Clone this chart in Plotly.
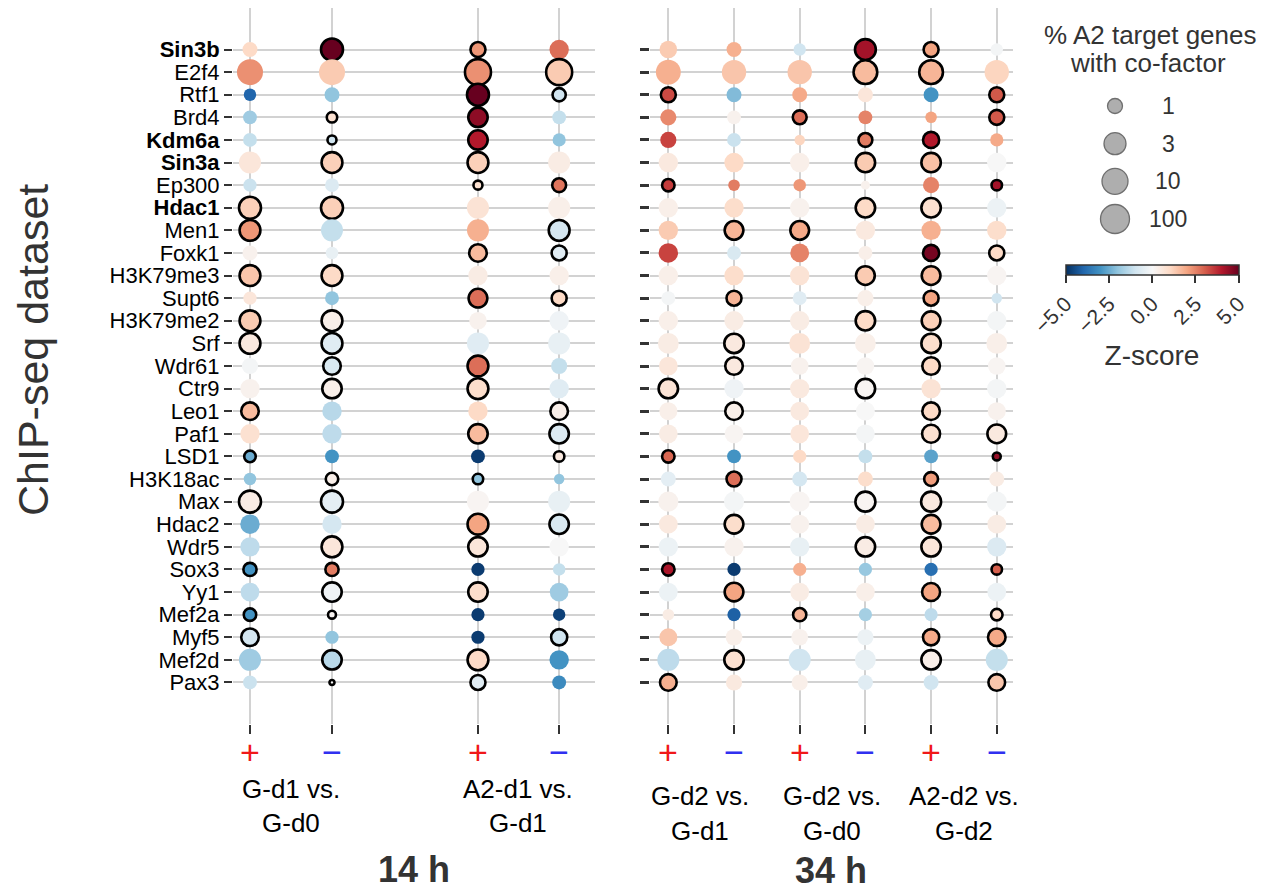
import numpy as np
import plotly.graph_objects as go

ROWS = ["Sin3b", "E2f4", "Rtf1", "Brd4", "Kdm6a", "Sin3a", "Ep300", "Hdac1", "Men1", "Foxk1",
        "H3K79me3", "Supt6", "H3K79me2", "Srf", "Wdr61", "Ctr9", "Leo1", "Paf1", "LSD1", "H3K18ac",
        "Max", "Hdac2", "Wdr5", "Sox3", "Yy1", "Mef2a", "Myf5", "Mef2d", "Pax3"]
BOLD_ROWS = ["Sin3b", "Kdm6a", "Sin3a", "Hdac1"]

COMPARISONS_14H = ["G-d1 vs.|G-d0", "A2-d1 vs.|G-d1"]
COMPARISONS_34H = ["G-d2 vs.|G-d1", "G-d2 vs.|G-d0", "A2-d2 vs.|G-d2"]
DIRECTIONS = ["+", "-"]

# Z-scores, 14 h panel: columns G-d1vsG-d0 (+,-), A2-d1vsG-d1 (+,-)
Z_14H = [
    [1.0, 5.0, 2.2, 2.8], [2.3, 1.3, 2.3, 1.3], [-4.0, -2.0, 5.0, -1.0], [-1.8, 0.8, 4.5, -1.2],
    [-1.2, -1.0, 4.0, -2.0], [0.6, 1.2, 1.2, 0.4], [-1.1, -0.7, 0.8, 2.7], [1.2, 1.2, 0.7, 0.3],
    [2.2, -1.2, 1.8, -0.9], [0.2, -0.4, 1.6, -0.6], [1.4, 1.0, 0.4, 0.3], [0.6, -2.0, 2.8, 1.0],
    [1.3, 0.3, 0.2, -0.2], [0.5, -0.6, -0.6, -0.4], [-0.1, -0.8, 2.8, -1.2], [0.2, 0.3, 0.9, -0.6],
    [1.6, -1.4, 1.0, 0.3], [0.8, -1.3, 1.6, -0.7], [-2.5, -3.0, -4.8, 0.5], [-2.0, 0.3, -2.0, -2.0],
    [0.4, -0.5, 0.1, -0.4], [-2.5, -0.9, 2.0, -0.8], [-1.3, 0.6, 0.6, 0.0], [-3.0, 2.6, -4.8, -1.2],
    [-1.3, -0.2, 0.9, -1.8], [-3.0, 0.1, -4.8, -4.7], [-0.9, -2.0, -4.8, -1.0], [-1.8, -1.4, 1.0, -3.0],
    [-1.1, 0.0, -0.6, -3.2],
]
# % of A2 target genes with co-factor, 14 h panel
PCT_14H = [
    [1.0, 3.0, 1.0, 2.0], [10, 10, 10, 10], [0.6, 1.0, 3.0, 0.7], [0.8, 0.4, 2.0, 0.8],
    [0.8, 0.3, 2.0, 0.7], [3.0, 2.5, 2.5, 3.0], [0.7, 0.8, 0.3, 0.8], [3.0, 3.0, 3.0, 3.0],
    [2.5, 3.0, 3.0, 2.5], [1.0, 0.6, 1.5, 1.0], [2.5, 2.5, 2.0, 2.0], [0.7, 0.8, 1.8, 1.0],
    [2.5, 2.5, 1.5, 2.0], [2.5, 2.5, 3.0, 3.0], [1.2, 1.5, 2.5, 1.2], [2.0, 2.0, 2.5, 2.0],
    [1.5, 2.0, 2.0, 1.5], [2.0, 2.0, 2.0, 2.0], [0.5, 0.8, 0.8, 0.4], [0.6, 0.6, 0.4, 0.4],
    [3.0, 3.0, 3.0, 3.0], [2.0, 2.0, 2.5, 2.0], [2.0, 2.5, 2.0, 2.0], [0.7, 0.7, 0.7, 0.6],
    [1.8, 2.0, 2.0, 1.8], [0.6, 0.25, 0.7, 0.6], [1.5, 0.7, 0.7, 1.2], [3.0, 2.0, 2.5, 2.0],
    [0.8, 0.15, 1.0, 0.8],
]
# significant enrichment (outlined), 14 h panel
SIG_14H = [
    [0, 1, 1, 0], [0, 0, 1, 1], [0, 0, 1, 1], [0, 1, 1, 0], [0, 1, 1, 0], [0, 1, 1, 0], [0, 0, 1, 1],
    [1, 1, 0, 0], [1, 0, 0, 1], [0, 0, 1, 1], [1, 1, 0, 0], [0, 0, 1, 1], [1, 1, 0, 0], [1, 1, 0, 0],
    [0, 1, 1, 0], [0, 1, 1, 0], [1, 0, 0, 1], [0, 0, 1, 1], [1, 0, 0, 1], [0, 1, 1, 0], [1, 1, 0, 0],
    [0, 0, 1, 1], [0, 1, 1, 0], [1, 1, 0, 0], [0, 1, 1, 0], [1, 1, 0, 0], [1, 0, 0, 1], [0, 1, 1, 0],
    [0, 1, 1, 0],
]

# Z-scores, 34 h panel: G-d2vsG-d1 (+,-), G-d2vsG-d0 (+,-), A2-d2vsG-d2 (+,-)
Z_34H = [
    [1.3, 1.8, -1.0, 4.2, 2.0, -0.1], [1.8, 1.4, 1.4, 1.6, 1.7, 1.1], [3.3, -2.2, 1.9, 0.6, -3.0, 3.1],
    [2.4, 0.2, 2.8, 2.5, 2.0, 3.1], [3.4, -1.1, 1.1, 2.6, 4.0, 1.9], [0.5, 1.0, 0.3, 1.3, 1.5, 0.0],
    [3.5, 2.6, 2.2, 0.2, 2.5, 4.2], [0.3, 0.9, 0.2, 1.0, 0.8, -0.3], [1.3, 1.7, 1.9, 0.5, 1.8, 0.9],
    [3.4, -0.8, 2.5, 0.3, 4.8, 1.0], [0.3, 0.9, 0.7, 1.3, 1.6, 0.1], [-0.1, 1.7, -0.6, 0.3, 2.0, -1.0],
    [0.3, 0.4, 0.4, 1.0, 1.2, -0.1], [0.4, 0.5, 0.7, 0.3, 0.9, 0.3], [0.6, 0.5, 0.2, 0.1, 1.0, 0.1],
    [0.7, -0.2, 0.5, 0.1, 0.7, -0.1], [0.3, 0.3, 0.5, 0.0, 1.0, 0.2], [0.4, 0.1, 0.6, -0.1, 0.8, 0.5],
    [2.9, -3.0, 1.0, -1.2, -2.7, 4.4], [-0.5, 2.8, -0.9, 0.9, 2.1, 0.4], [0.2, -0.1, 0.1, 0.1, 0.5, -0.1],
    [0.5, 0.9, 0.2, 0.4, 1.6, 0.4], [-0.3, 0.2, -0.4, 0.4, 0.6, -0.7], [4.1, -4.8, 1.8, -1.9, -3.8, 3.0],
    [-0.3, 2.0, 0.4, 0.3, 2.0, -0.3], [0.4, -4.1, 1.7, -1.7, -1.3, 1.0], [1.4, 0.3, 0.2, -0.3, 1.9, 1.9],
    [-1.3, 0.8, -1.0, -0.4, 0.3, -1.2], [1.8, 0.5, 0.3, -0.6, -1.0, 1.4],
]
PCT_34H = [
    [1.5, 1.0, 0.6, 2.5, 1.0, 0.6], [7, 6, 6, 5, 5, 6], [1.0, 1.0, 1.0, 1.0, 1.0, 1.0],
    [1.2, 0.8, 0.8, 0.8, 0.5, 1.0], [1.2, 0.8, 0.4, 0.8, 1.2, 0.7], [2.0, 2.0, 2.0, 2.0, 2.0, 2.0],
    [0.6, 0.5, 0.6, 0.3, 1.2, 0.4], [2.0, 2.0, 2.0, 2.0, 2.0, 2.0], [2.0, 1.8, 1.8, 2.0, 2.0, 2.0],
    [2.0, 0.8, 1.8, 0.8, 1.2, 1.0], [2.0, 2.0, 2.0, 1.8, 1.8, 2.0], [0.8, 1.0, 0.8, 1.2, 1.0, 0.4],
    [2.0, 2.0, 2.0, 2.0, 1.8, 2.0], [2.5, 2.0, 2.5, 2.5, 2.0, 2.5], [1.8, 1.5, 1.5, 1.5, 1.5, 1.5],
    [2.0, 2.0, 2.0, 2.0, 2.0, 2.0], [1.6, 1.5, 1.8, 1.8, 1.5, 1.6], [1.8, 1.8, 1.8, 1.8, 1.6, 1.8],
    [0.6, 0.8, 0.7, 0.8, 0.8, 0.25], [1.0, 1.0, 1.0, 1.0, 0.8, 1.0], [2.2, 2.2, 2.2, 2.2, 2.2, 2.2],
    [1.8, 1.8, 1.8, 1.8, 1.8, 1.8], [2.0, 2.0, 2.0, 2.0, 2.0, 2.0], [0.6, 0.7, 0.7, 0.7, 0.7, 0.4],
    [1.8, 1.8, 1.8, 1.8, 1.6, 1.8], [0.5, 0.7, 0.7, 0.7, 0.7, 0.5], [1.6, 1.3, 1.3, 1.2, 1.2, 1.5],
    [3.0, 2.0, 3.0, 2.5, 2.0, 3.0], [1.3, 1.2, 1.2, 1.0, 1.0, 1.3],
]
SIG_34H = [
    [0, 0, 0, 1, 1, 0], [0, 0, 0, 1, 1, 0], [1, 0, 0, 0, 0, 1], [0, 0, 1, 0, 0, 1], [0, 0, 0, 1, 1, 0],
    [0, 0, 0, 1, 1, 0], [1, 0, 0, 0, 0, 1], [0, 0, 0, 1, 1, 0], [0, 1, 1, 0, 0, 0], [0, 0, 0, 0, 1, 1],
    [0, 0, 0, 1, 1, 0], [0, 1, 0, 0, 1, 0], [0, 0, 0, 1, 1, 0], [0, 1, 0, 0, 1, 0], [0, 1, 0, 0, 1, 0],
    [1, 0, 0, 1, 0, 0], [0, 1, 0, 0, 1, 0], [0, 0, 0, 0, 1, 1], [1, 0, 0, 0, 0, 1], [0, 1, 0, 0, 1, 0],
    [0, 0, 0, 1, 1, 0], [0, 1, 0, 0, 1, 0], [0, 0, 0, 1, 1, 0], [1, 0, 0, 0, 0, 1], [0, 1, 0, 0, 1, 0],
    [0, 0, 1, 0, 0, 1], [0, 0, 0, 0, 1, 1], [0, 1, 0, 0, 1, 0], [1, 0, 0, 0, 0, 1],
]

LEGEND_PCT = [1, 3, 10, 100]
Z_TICKS = [-5, -2.5, 0, 2.5, 5]

# ---------------- styling / layout helpers ----------------
OFF = 8                      # default page margin of the browser
W, H = 1270 - OFF, 890 - OFF
def px(x): return (x - OFF) / W
def py(y): return 1 - (y - OFF) / H

RDBU_R = ["rgb(5,48,97)", "rgb(33,102,172)", "rgb(67,147,195)", "rgb(146,197,222)",
          "rgb(209,229,240)", "rgb(247,247,247)", "rgb(253,219,199)", "rgb(244,165,130)",
          "rgb(214,96,77)", "rgb(178,24,43)", "rgb(103,0,31)"]
COLORSCALE = [[i / 10, c] for i, c in enumerate(RDBU_R)]

def marker_size(p):
    knots_p = np.log10([0.15, 0.3, 1, 3, 10, 100])
    knots_d = [5, 9, 15, 22, 26, 29]
    return np.interp(np.log10(p), knots_p, knots_d)

POS_14H = [0, 1, 2.78, 3.77]
POS_34H = [0, 1, 2, 3, 4, 5]
ARIAL = "Liberation Sans, Arial, sans-serif"
GRID = "#d2d2d2"
DARK = "#333333"
SIGN_STYLE = {"+": ("+", "#f01818"), "-": ("\u2212", "#3030f0")}

fig = go.Figure()

def add_panel(Z, P, S, pos, xa, ya):
    xs, ys, zs, ss, lw = [], [], [], [], []
    for r in range(len(ROWS)):
        for j in range(len(pos)):
            xs.append(pos[j]); ys.append(r); zs.append(Z[r][j])
            ss.append(float(marker_size(P[r][j])))
            lw.append(2.6 if S[r][j] else 0)
    fig.add_trace(go.Scatter(
        x=xs, y=ys, mode="markers", xaxis=xa, yaxis=ya, cliponaxis=False,
        marker=dict(color=zs, coloraxis="coloraxis", size=ss, opacity=1,
                    line=dict(color="black", width=lw)),
        hoverinfo="skip"))

add_panel(Z_14H, PCT_14H, SIG_14H, POS_14H, "x", "y")
add_panel(Z_34H, PCT_34H, SIG_34H, POS_34H, "x2", "y2")

# size legend
fig.add_trace(go.Scatter(
    x=[0] * len(LEGEND_PCT), y=list(range(len(LEGEND_PCT))), mode="markers",
    xaxis="x3", yaxis="y3", cliponaxis=False,
    marker=dict(size=[float(marker_size(p)) for p in LEGEND_PCT], color="#8c8c8c",
                line=dict(color=DARK, width=1.3)),
    hoverinfo="skip"))

def ytick_text(name):
    return f"<b>{name}</b>" if name in BOLD_ROWS else name

ROW_POS = list(range(len(ROWS)))
YRANGE = [len(ROWS) - 1 + 1.8375, -1.8375]
YDOM = [py(724), py(OFF)]

common_x = dict(ticks="outside", ticklen=9, tickwidth=1.5, tickcolor=DARK, showticklabels=False,
                showgrid=True, gridcolor=GRID, gridwidth=2, zeroline=False, showline=False,
                fixedrange=True)
common_y = dict(range=YRANGE, domain=YDOM, tickvals=ROW_POS, ticks="outside", tickcolor=DARK,
                showgrid=True, gridcolor=GRID, gridwidth=2, zeroline=False, showline=False,
                fixedrange=True)

fig.update_layout(
    width=W, height=H, margin=dict(l=0, r=0, t=0, b=0),
    template="none", paper_bgcolor="white", plot_bgcolor="white", showlegend=False,
    xaxis=dict(domain=[px(233), px(595)], range=[-0.207, 4.207], anchor="y",
               tickvals=POS_14H, **common_x),
    yaxis=dict(anchor="x", ticktext=[ytick_text(n) for n in ROWS], ticklen=8, tickwidth=2,
               tickfont=dict(size=22, family=ARIAL, color="black"), **common_y),
    xaxis2=dict(domain=[px(650), px(1013)], range=[-0.279, 5.247], anchor="y2",
                tickvals=POS_34H, **common_x),
    yaxis2=dict(anchor="x2", showticklabels=False, ticklen=9, tickwidth=3, **common_y),
    xaxis3=dict(domain=[px(1090), px(1140)], range=[-1, 1], visible=False, fixedrange=True),
    yaxis3=dict(domain=[py(235), py(90)], range=[3.424, -0.424], visible=False, fixedrange=True,
                anchor="x3"),
    coloraxis=dict(
        colorscale=COLORSCALE, cmin=-5, cmax=5,
        colorbar=dict(orientation="h", x=px(1152), xanchor="center", y=py(265), yanchor="top",
                      len=173, lenmode="pixels", thickness=10, outlinecolor=DARK, outlinewidth=1.5,
                      ticks="outside", ticklen=8, tickwidth=1.5, tickcolor=DARK,
                      tickvals=Z_TICKS, tickformat=".1f", tickangle=-45,
                      tickfont=dict(size=21, color=DARK, family=ARIAL),
                      title=dict(text="Z-score", side="bottom", font=dict(size=28, color=DARK, family=ARIAL)),
                      xpad=0, ypad=0)),
    font=dict(family=ARIAL, color="black"),
)

ann = []
def add_text(text, x, y, size, color="black", bold=False, angle=0, xref="paper", yref="paper"):
    ann.append(dict(text=f"<b>{text}</b>" if bold else text, x=x, y=y, xref=xref, yref=yref,
                    showarrow=False, xanchor="center", yanchor="middle", textangle=angle,
                    font=dict(size=size, color=color, family=ARIAL)))

# +/- direction marks under each column
for xref, pos, comps in [("x", POS_14H, COMPARISONS_14H), ("x2", POS_34H, COMPARISONS_34H)]:
    signs = [d for _ in comps for d in DIRECTIONS]
    for xv, d in zip(pos, signs):
        glyph, col = SIGN_STYLE[d]
        add_text(glyph, xv, py(752), 34, col, xref=xref)

# y-axis title
add_text("ChIP-seq dataset", px(33), py(350), 43, DARK, angle=-90)
# comparison labels
for label, xc in zip(COMPARISONS_14H, [291, 518]):
    l1, l2 = label.split("|")
    add_text(l1, px(xc), py(789), 26)
    add_text(l2, px(xc), py(823), 26)
for label, xc in zip(COMPARISONS_34H, [700.5, 832, 963.5]):
    l1, l2 = label.split("|")
    add_text(l1, px(xc), py(796), 26)
    add_text(l2, px(xc), py(831), 26)
add_text("14 h", px(414), py(869), 36, DARK, bold=True)
add_text("34 h", px(831), py(870), 36, DARK, bold=True)
# size legend title & labels
add_text("% A2 target genes", px(1150), py(35), 26, DARK)
add_text("with co-factor", px(1148), py(63), 26, DARK)
for i, p in enumerate(LEGEND_PCT):
    add_text(str(p), px(1168), i, 23, DARK, yref="y3")

fig.update_layout(annotations=ann)
fig.write_html("out.html")
